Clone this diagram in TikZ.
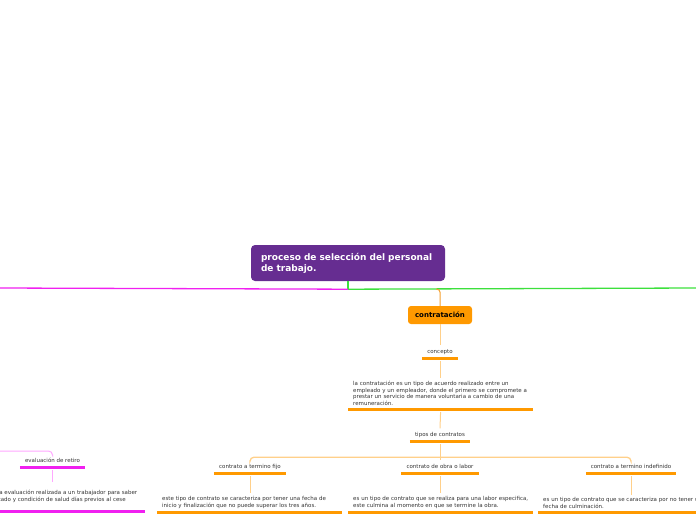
\documentclass[tikz,border=0pt]{standalone}
\usepackage{fontspec}
\setmainfont{DejaVu Sans}
\usetikzlibrary{positioning}
\definecolor{mapviolet}{HTML}{662D91}
\definecolor{maporange}{HTML}{FF9900}
\definecolor{mapbranch}{HTML}{F5A030}
\definecolor{mapline}{HTML}{FFD08A}
\definecolor{mapgreen}{HTML}{3CE03C}
\definecolor{mappink}{HTML}{F020F0}
\definecolor{mappinklight}{HTML}{FFA8FF}
\definecolor{maptext}{HTML}{333333}

\begin{document}
\begin{tikzpicture}[
  x=1pt, y=-1pt,
  mapfont/.style={font=\fontsize{5.5}{6.8}\selectfont, text=maptext},
  title/.style={fill=mapviolet, rounded corners=4pt, text=white, align=left,
                font=\bfseries\fontsize{9}{11}\selectfont, text width=174pt,
                inner xsep=10pt, minimum height=36pt},
  mainbox/.style={fill=maporange, rounded corners=3pt, inner sep=0pt,
                  font=\bfseries\fontsize{7}{8}\selectfont,
                  minimum width=64pt, minimum height=18pt},
  topic/.style={mapfont, minimum width=#1, inner xsep=0pt, inner ysep=3.5pt,
                text height=4pt, text depth=1.5pt, anchor=base},
  para/.style={mapfont, text width=#1, align=left, inner xsep=5pt,
               inner ysep=3pt, anchor=south west},
  uline/.style={maporange, line width=3pt},
  conn/.style={mapline, line width=1pt},
  pinkconn/.style={mappinklight, line width=1pt},
]
\useasboundingbox (0,0) rectangle (696,520);
\clip (0,0) rectangle (696,520);

\node[title] (title) at (348,263) {proceso de selección del personal\\de trabajo.};
\node[mainbox] (contratacion) at (440,315) {contratación};

\node[topic=35pt] (concepto) at (440,353) {concepto};
\node[para=175pt] (defcontrato) at (348,409)
  {la contratación es un tipo de acuerdo realizado entre un\\
   empleado y un empleador, donde el primero se compromete a\\
   prestar un servicio de manera voluntaria a cambio de una\\
   remuneración.};
\node[topic=60pt] (tipos) at (440,436) {tipos de contratos};

\node[topic=72pt] (fijo) at (250,468) {contrato a termino fijo};
\node[topic=77pt] (obra) at (440,468) {contrato de obra o labor};
\node[topic=90pt] (indef) at (631,468) {contrato a termino indefinido};
\node[para=175pt] (deffijo) at (157,512)
  {este tipo de contrato se caracteriza por tener una fecha de\\
   inicio y finalización que no puede superar los tres años.};
\node[para=175pt] (defobra) at (348,512)
  {es un tipo de contrato que se realiza para una labor especifica,\\
   este culmina al momento en que se termine la obra.};
\node[para=175pt] (defindef) at (538,512)
  {es un tipo de contrato que se caracteriza por no tener una\\
   fecha de culminación.};

\node[topic=65pt] (retiro) at (52.5,462) {evaluación de retiro};
\node[para=156pt, minimum height=29pt] (defretiro) at (-21,511)
  {es una evaluación realizada a un trabajador para saber\\
   su estado y condición de salud días previos al cese};

\coordinate (hub) at ([yshift=-8pt]title.south);
\coordinate (rend) at (696,288);
\coordinate (lend) at (0,288);
\coordinate (lretiro) at (0,451);
\coordinate[below=16pt of tipos.south] (split);
\path (contratacion.north |- hub) coordinate (ojoin);

\draw[mapgreen, line width=2pt] (title.south) -- (hub);
\draw[mapgreen, line width=1.3pt] (hub) -- (rend);
\draw[mappink, line width=1.3pt] (hub) -- (lend);
\draw[mapbranch, line width=1pt, rounded corners=3pt] ([xshift=-4pt]ojoin) -| (contratacion.north);

\foreach \n in {concepto,defcontrato,tipos,fijo,obra,indef,deffijo,defobra,defindef}
  \draw[uline] (\n.south west) -- (\n.south east);
\foreach \n in {retiro,defretiro}
  \draw[uline, mappink] (\n.south west) -- (\n.south east);

\draw[conn] (contratacion.south) -- (concepto.north);
\draw[conn, shorten <=3pt] (concepto.south) -- (concepto.south |- defcontrato.north);
\draw[conn, shorten <=3pt] (defcontrato.south) -- (tipos.north);
\draw[conn, shorten <=3pt] (tipos.south) -- (obra.north);
\draw[conn, line width=1.3pt, rounded corners=4pt] (split) -| (fijo.north);
\draw[conn, line width=1.3pt, rounded corners=4pt] (split) -| (indef.north);
\draw[conn, shorten <=3pt] (fijo.south) -- (fijo.south |- deffijo.north);
\draw[conn, shorten <=3pt] (obra.south) -- (obra.south |- defobra.north);
\draw[conn, shorten <=3pt] (indef.south) -- (indef.south |- defindef.north);
\draw[pinkconn, rounded corners=4pt] (lretiro) -| (retiro.north);
\draw[pinkconn, shorten <=3pt] (retiro.south) -- (retiro.south |- defretiro.north);
\end{tikzpicture}
\end{document}
